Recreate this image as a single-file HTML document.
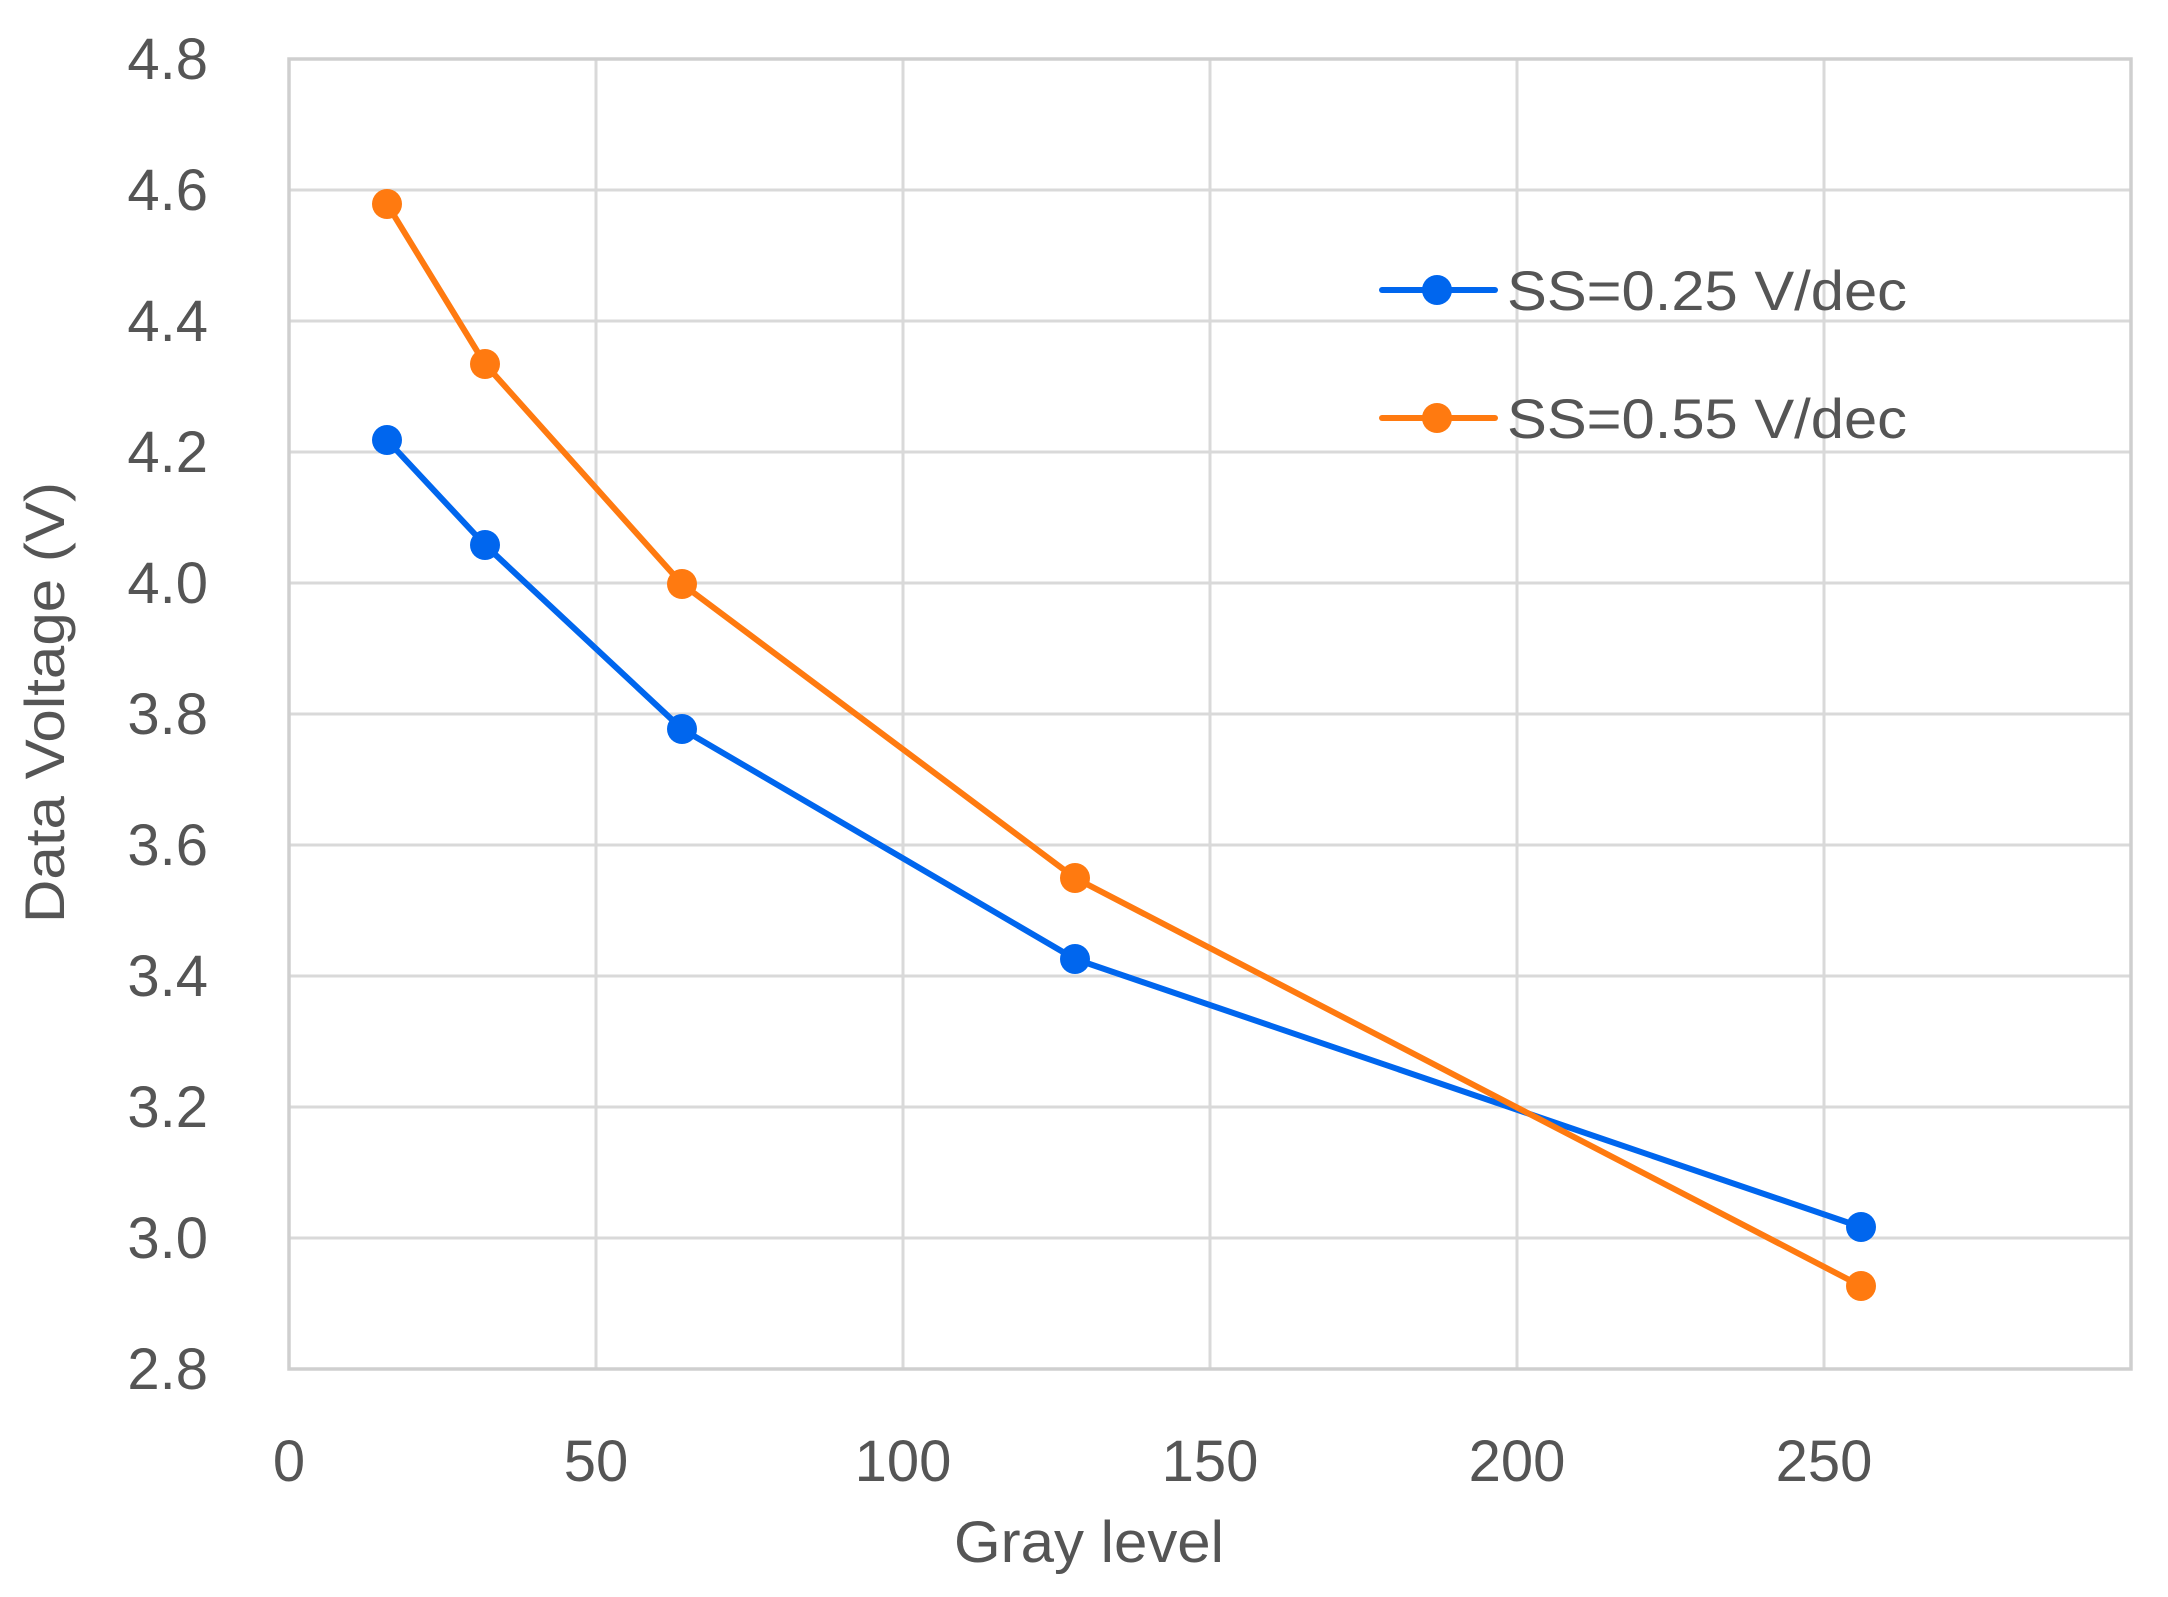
<!DOCTYPE html>
<html><head><meta charset="utf-8"><style>
html,body{margin:0;padding:0;background:#fff;}
svg{display:block;}
text{font-family:"Liberation Sans","DejaVu Sans",sans-serif;fill:#555;}
</style></head><body>
<svg width="2168" height="1597" viewBox="0 0 2168 1597" xmlns="http://www.w3.org/2000/svg">
<g stroke="#d9d9d9" stroke-width="3">
<line x1="289" y1="59" x2="2131" y2="59"/>
<line x1="289" y1="190" x2="2131" y2="190"/>
<line x1="289" y1="321" x2="2131" y2="321"/>
<line x1="289" y1="452" x2="2131" y2="452"/>
<line x1="289" y1="583" x2="2131" y2="583"/>
<line x1="289" y1="714" x2="2131" y2="714"/>
<line x1="289" y1="845" x2="2131" y2="845"/>
<line x1="289" y1="976" x2="2131" y2="976"/>
<line x1="289" y1="1107" x2="2131" y2="1107"/>
<line x1="289" y1="1238" x2="2131" y2="1238"/>
<line x1="596" y1="59" x2="596" y2="1369"/>
<line x1="903" y1="59" x2="903" y2="1369"/>
<line x1="1210" y1="59" x2="1210" y2="1369"/>
<line x1="1517" y1="59" x2="1517" y2="1369"/>
<line x1="1824" y1="59" x2="1824" y2="1369"/>
</g>
<rect x="289" y="59" width="1842" height="1310" fill="none" stroke="#cfcfcf" stroke-width="3.5"/>
<g font-size="58" text-anchor="end">
<text x="208" y="79">4.8</text>
<text x="208" y="210">4.6</text>
<text x="208" y="341">4.4</text>
<text x="208" y="472">4.2</text>
<text x="208" y="603">4.0</text>
<text x="208" y="734">3.8</text>
<text x="208" y="865">3.6</text>
<text x="208" y="996">3.4</text>
<text x="208" y="1127">3.2</text>
<text x="208" y="1258">3.0</text>
<text x="208" y="1389">2.8</text>
</g>
<g font-size="58" text-anchor="middle">
<text x="289" y="1481">0</text>
<text x="596" y="1481">50</text>
<text x="903" y="1481">100</text>
<text x="1210" y="1481">150</text>
<text x="1517" y="1481">200</text>
<text x="1824" y="1481">250</text>
</g>
<text x="954" y="1562" font-size="58" textLength="270" lengthAdjust="spacingAndGlyphs">Gray level</text>
<text transform="translate(64,923) rotate(-90)" font-size="56" textLength="441" lengthAdjust="spacingAndGlyphs">Data Voltage (V)</text>
<!-- series: x = 289 + v*6.14 ; y = 59 + (4.8-V)*655 -->
<polyline fill="none" stroke="#0066ee" stroke-width="6" stroke-linejoin="round" points="387,440 485,545 682,729 1075,959 1861,1227"/>
<polyline fill="none" stroke="#ff7a10" stroke-width="6" stroke-linejoin="round" points="387,204 485,364 682,584 1075,878 1861,1286"/>
<g fill="#0066ee">
<circle cx="387" cy="440" r="15"/><circle cx="485" cy="545" r="15"/><circle cx="682" cy="729" r="15"/><circle cx="1075" cy="959" r="15"/><circle cx="1861" cy="1227" r="15"/>
</g>
<g fill="#ff7a10">
<circle cx="387" cy="204" r="15"/><circle cx="485" cy="364" r="15"/><circle cx="682" cy="584" r="15"/><circle cx="1075" cy="878" r="15"/><circle cx="1861" cy="1286" r="15"/>
</g>
<line x1="1382" y1="290" x2="1495" y2="290" stroke="#0066ee" stroke-width="6" stroke-linecap="round"/>
<circle cx="1437" cy="290" r="15" fill="#0066ee"/>
<line x1="1382" y1="418" x2="1495" y2="418" stroke="#ff7a10" stroke-width="6" stroke-linecap="round"/>
<circle cx="1437" cy="418" r="15" fill="#ff7a10"/>
<text x="1507" y="310" font-size="56" textLength="400" lengthAdjust="spacingAndGlyphs">SS=0.25 V/dec</text>
<text x="1507" y="438" font-size="56" textLength="400" lengthAdjust="spacingAndGlyphs">SS=0.55 V/dec</text>
</svg>
</body></html>
